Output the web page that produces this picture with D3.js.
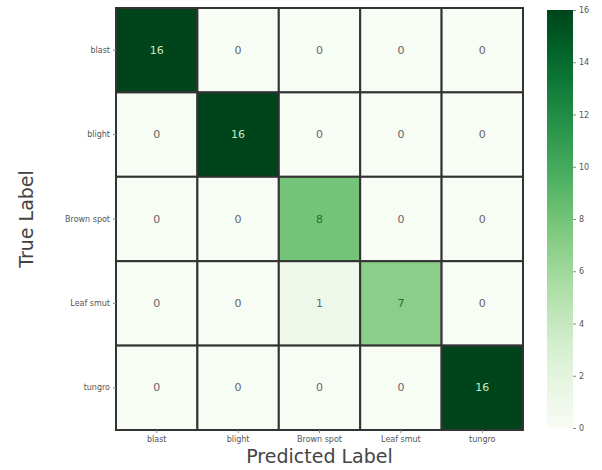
<!DOCTYPE html>
<html>
<head>
<meta charset="utf-8">
<script src="https://cdn.jsdelivr.net/npm/d3@7/dist/d3.min.js"></script>
<style>
  body { margin: 0; background: #fff; }
  text { font-family: "DejaVu Sans", sans-serif; }
</style>
</head>
<body>
<div id="chart"></div>
<script>
// Data
const classes = ["blast", "blight", "Brown spot", "Leaf smut", "tungro"];
const matrix = [
  [16, 0, 0, 0, 0],
  [0, 16, 0, 0, 0],
  [0, 0, 8, 0, 0],
  [0, 0, 1, 7, 0],
  [0, 0, 0, 0, 16]
];
const colorTicks = [0, 2, 4, 6, 8, 10, 12, 14, 16];

const width = 602, height = 470;
const margin = { top: 8, left: 116, right: 523, bottom: 430 };

const svg = d3.select("#chart").append("svg")
  .attr("width", width)
  .attr("height", height);

const x = d3.scaleBand().domain(classes).range([margin.left, margin.right]);
const y = d3.scaleBand().domain(classes).range([margin.top, margin.bottom]);
const color = d3.scaleSequential(d3.interpolateGreens).domain([0, 16]);

const cells = [];
matrix.forEach((row, i) => row.forEach((v, j) => cells.push({ t: classes[i], p: classes[j], v })));

// Cells
svg.append("g")
  .selectAll("rect")
  .data(cells)
  .join("rect")
  .attr("x", d => x(d.p))
  .attr("y", d => y(d.t))
  .attr("width", x.bandwidth())
  .attr("height", y.bandwidth())
  .attr("fill", d => color(d.v))
  .attr("stroke", "#333")
  .attr("stroke-width", 2);

// Annotations
svg.append("g")
  .selectAll("text")
  .data(cells)
  .join("text")
  .attr("x", d => x(d.p) + x.bandwidth() / 2)
  .attr("y", d => y(d.t) + y.bandwidth() / 2)
  .attr("text-anchor", "middle")
  .attr("dominant-baseline", "central")
  .attr("font-size", "11px")
  .attr("fill", d => d.v > 10 ? "#c8e8c0" : d.v > 5 ? "#2a6b35" : "#666")
  .text(d => d.v);

// Axes
const xAxis = svg.append("g")
  .attr("transform", `translate(0,${margin.bottom})`)
  .call(d3.axisBottom(x).tickSize(3).tickPadding(3));
const yAxis = svg.append("g")
  .attr("transform", `translate(${margin.left},0)`)
  .call(d3.axisLeft(y).tickSize(3).tickPadding(3));
[xAxis, yAxis].forEach(g => {
  g.select(".domain").remove();
  g.selectAll("line").attr("stroke", "#888");
  g.selectAll("text").attr("font-size", "8px").attr("fill", "#555")
    .style("font-family", "DejaVu Sans, sans-serif");
});

// Axis titles
svg.append("text")
  .attr("x", (margin.left + margin.right) / 2)
  .attr("y", 463)
  .attr("text-anchor", "middle")
  .attr("font-size", "19px")
  .attr("fill", "#444")
  .text("Predicted Label");

svg.append("text")
  .attr("transform", `translate(33,${(margin.top + margin.bottom) / 2}) rotate(-90)`)
  .attr("text-anchor", "middle")
  .attr("font-size", "19px")
  .attr("fill", "#444")
  .text("True Label");

// Colorbar
const cb = { x: 547, w: 26, top: 10, bottom: 428 };
const defs = svg.append("defs");
const grad = defs.append("linearGradient")
  .attr("id", "cbgrad")
  .attr("x1", 0).attr("y1", 1).attr("x2", 0).attr("y2", 0);
d3.range(0, 1.0001, 0.05).forEach(t => {
  grad.append("stop").attr("offset", t).attr("stop-color", d3.interpolateGreens(t));
});
svg.append("rect")
  .attr("x", cb.x).attr("y", cb.top)
  .attr("width", cb.w).attr("height", cb.bottom - cb.top)
  .attr("fill", "url(#cbgrad)");

const cbScale = d3.scaleLinear().domain([0, 16]).range([cb.bottom, cb.top]);
const cbAxis = svg.append("g")
  .attr("transform", `translate(${cb.x + cb.w},0)`)
  .call(d3.axisRight(cbScale).tickValues(colorTicks).tickSize(3).tickPadding(3));
cbAxis.select(".domain").remove();
cbAxis.selectAll("line").attr("stroke", "#888");
cbAxis.selectAll("text").attr("font-size", "8px").attr("fill", "#555")
  .style("font-family", "DejaVu Sans, sans-serif");
</script>
</body>
</html>
